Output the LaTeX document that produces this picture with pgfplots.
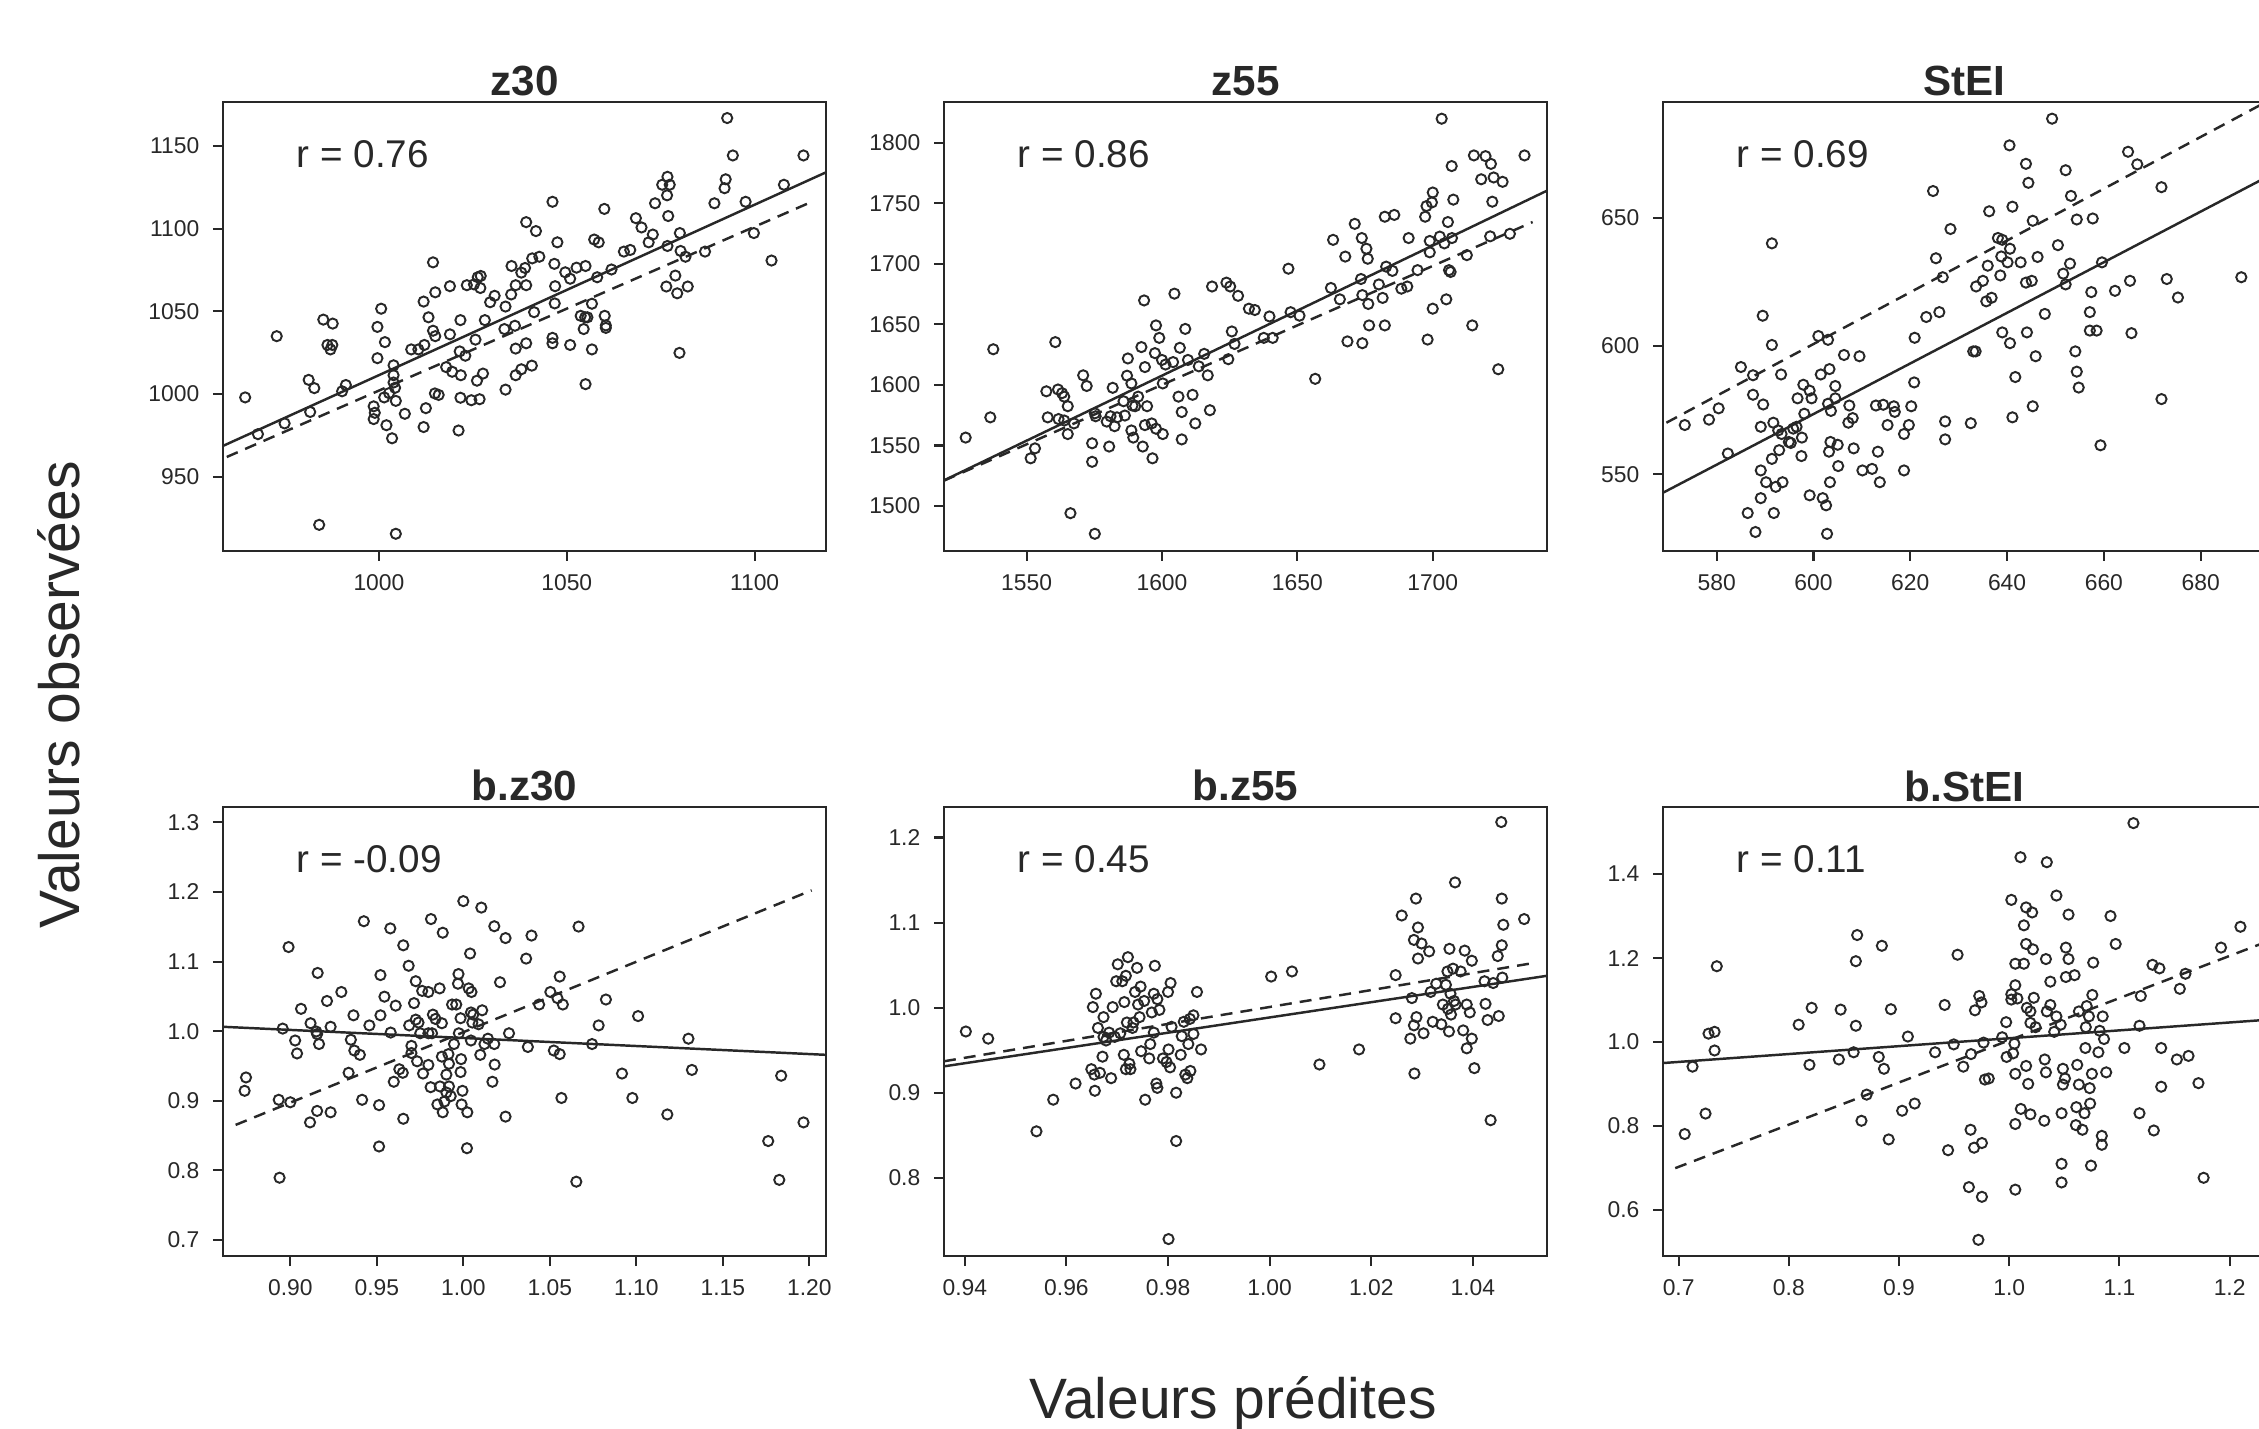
\documentclass[border=0pt]{standalone}
\usepackage{fontspec}
\setmainfont{Liberation Sans}
\usepackage{pgfplots}
\pgfplotsset{compat=1.18}

\definecolor{ink}{RGB}{40,40,40}

\pgfplotsset{
  panel/.style={
    scale only axis, width=6.03cm, height=4.49cm,
    axis line style={ink, line width=0.7pt},
    tick align=outside, tick pos=left,
    major tick length=0.10cm,
    tick style={ink, line width=0.6pt},
    tick label style={font=\fontsize{6.5}{7}\selectfont, text=ink, inner sep=0pt},
    xticklabel style={yshift=-0.13cm},
    yticklabel style={xshift=-0.13cm},
    /pgf/number format/assume math mode=true,
    /pgf/number format/1000 sep={},
    scaled ticks=false,
    every axis title/.style={at={(0.5,1)}, anchor=base, yshift=0.06cm, inner sep=0pt,
      font=\bfseries\fontsize{12}{13}\selectfont, text=ink},
  },
  pts/.style={only marks, mark=o, mark size=1.45pt, mark options={line width=0.55pt, draw=ink}},
  fit/.style={ink, line width=0.7pt},
  fitd/.style={ink, line width=0.7pt, dash pattern=on 3.4pt off 2.3pt},
}
\newcommand{\rlab}[1]{\node[anchor=base west, inner sep=0pt, font=\fontsize{11}{12}\selectfont, text=ink] at (rel axis cs:0.121,0.855) {#1};}

\begin{document}
\begin{tikzpicture}

% ---------- z30
\begin{axis}[panel, at={(2.23cm,8.77cm)}, anchor=south west,
  title={z30}, xmin=958.5, xmax=1119, ymin=905.2, ymax=1176.5,
  xtick={1000,1050,1100}, ytick={950,1000,1050,1100,1150}]
\addplot[pts] coordinates {(964.4,998) (967.8,975.8) (972.8,1035) (974.9,982.3) (981.7,989.2) (981.3,1008.6) (982.8,1003.6) (985.2,1045) (987.7,1042.6) (986.3,1029.7) (987.6,1029.7) (987.1,1027) (984.1,921) (990.2,1001.7) (991.2,1005.5) (1000.6,1051.6) (999.6,1040.6) (1001.6,1031.4) (999.6,1021.7) (998.6,992.6) (998.9,988.7) (998.6,984.9) (1001.4,998) (1002,981.2) (1003.5,973.3) (1003.9,1017.4) (1003.9,1011.4) (1003.9,1007) (1004.3,1003.8) (1004.5,995.9) (1002.7,1000.6) (1004.5,915.6) (1006.9,988.1) (1008.6,1027) (1010.5,1027) (1012.1,1029.7) (1011.9,1055.9) (1013.2,1046.4) (1014.4,1038.3) (1015,1035) (1014.4,1079.6) (1015,1061.5) (1018.9,1065.2) (1018.9,1036.1) (1012.5,991.5) (1011.9,980.1) (1014.9,1000.4) (1015.9,999.5) (1017.9,1016.3) (1019.5,1013.5) (1021.5,1025.8) (1021.8,1011.4) (1023,1023.2) (1021.7,997.8) (1021.2,978) (1021.7,1044.7) (1023.4,1065.8) (1025.3,1066.3) (1026.3,1070.6) (1027.1,1071.4) (1027,1064.1) (1028.2,1044.7) (1029.6,1055.5) (1030.8,1059.4) (1025.7,1032.9) (1026.1,1008.1) (1027.7,1012.4) (1024.6,996.3) (1026.8,996.9) (1033.7,1052.9) (1033.4,1039.3) (1033.7,1002.7) (1035.3,1077.4) (1035.2,1060.2) (1036.4,1065.8) (1036.2,1041.3) (1036.4,1027.5) (1036.4,1011.4) (1037.9,1015) (1037.9,1073.4) (1038.9,1076.2) (1039.2,1065.8) (1039.2,1030.7) (1039.2,1103.9) (1040.7,1017.2) (1041.3,1049.5) (1040.8,1082) (1041.8,1098.5) (1042.7,1083) (1046.2,1116.2) (1046.7,1078.7) (1046.2,1034) (1046.2,1030.7) (1046.9,1065.2) (1046.8,1054.8) (1047.5,1091.7) (1049.6,1073.6) (1050.9,1069.7) (1050.9,1029.7) (1052.6,1076.4) (1055,1077.4) (1053.7,1047.3) (1054.9,1046.4) (1054.5,1039.3) (1055.5,1046.4) (1055,1006) (1056.7,1027) (1056.7,1054.6) (1057.3,1093.4) (1058.5,1091.7) (1058.1,1070.6) (1060,1111.9) (1060.1,1047.3) (1060.4,1041.5) (1060.4,1040) (1061.9,1075.3) (1065.2,1086.1) (1066.9,1087.1) (1068.4,1106.3) (1069.9,1100.7) (1071.8,1091.7) (1072.9,1096.4) (1073.5,1115.3) (1075.4,1126.5) (1076.7,1120.1) (1076.8,1131.3) (1077.4,1126.5) (1077,1107.6) (1076.8,1089.5) (1076.5,1065) (1078.9,1071.6) (1079.4,1060.9) (1080.1,1097.3) (1080.3,1086.5) (1081.6,1083) (1082.2,1065) (1080,1024.9) (1086.8,1086.1) (1089.3,1115.3) (1092,1124.4) (1092.3,1129.8) (1092.7,1166.8) (1094.2,1144.2) (1097.6,1116.2) (1099.8,1097.3) (1104.5,1080.7) (1107.8,1126.5) (1113,1144.2)};
\addplot[fit] coordinates {(958.5,968.7) (1119,1134)};
\addplot[fitd] coordinates {(959.5,962) (1115,1116)};
\rlab{r = 0.76}
\end{axis}

% ---------- z55
\begin{axis}[panel, at={(9.44cm,8.77cm)}, anchor=south west,
  title={z55}, xmin=1519.5, xmax=1742.2, ymin=1462.9, ymax=1833.5,
  xtick={1550,1600,1650,1700}, ytick={1500,1550,1600,1650,1700,1750,1800}]
\addplot[pts] coordinates {(1527.5,1556.5) (1536.6,1573.2) (1537.7,1629.4) (1551.5,1539.4) (1553.1,1547.6) (1557.3,1594.7) (1557.8,1573.2) (1560.6,1635.3) (1561.6,1596.2) (1563.1,1593.2) (1563.9,1590.3) (1565.2,1582.4) (1561.8,1571.8) (1563.9,1570.6) (1565.2,1559.4) (1567.5,1568.2) (1566.2,1494.1) (1570.9,1607.9) (1572.2,1599.1) (1574.2,1551.8) (1574.2,1536.5) (1575.2,1576.5) (1575.5,1574.1) (1575.2,1477.1) (1579.6,1569.7) (1580.5,1549.1) (1581.8,1597.6) (1581,1574.1) (1582.5,1565.9) (1583.4,1573.2) (1586.3,1574.7) (1585.8,1586.5) (1587.1,1607.6) (1587.4,1621.8) (1588.7,1601.2) (1589.1,1582.9) (1590.1,1582.4) (1588.7,1562.4) (1589.4,1556.5) (1591.2,1590.3) (1592.4,1631.2) (1593.7,1614.7) (1594.5,1582.4) (1593.7,1566.8) (1593.4,1669.7) (1592.9,1549.1) (1596.2,1568.2) (1596.5,1539.4) (1597.4,1626.2) (1597.8,1649.1) (1597.8,1563.8) (1599,1638.8) (1600,1620.6) (1600.3,1601.2) (1600.3,1559.4) (1601.3,1616.8) (1604.1,1618.8) (1604.6,1675.3) (1606.1,1590.3) (1606.6,1630.6) (1607.3,1577.6) (1607.3,1555) (1608.6,1646.2) (1609.6,1620.6) (1611.3,1591.8) (1612.3,1568.2) (1613.6,1615.3) (1615.6,1625.6) (1616.9,1607.9) (1617.7,1579.1) (1618.5,1681.2) (1623.8,1684.4) (1625.2,1681.2) (1628.1,1673.5) (1625.8,1644.1) (1626.8,1633.8) (1624.5,1621.2) (1632.1,1662.9) (1634.3,1661.8) (1637.6,1638.8) (1639.7,1656.5) (1640.9,1638.8) (1646.7,1695.9) (1647.5,1660) (1650.8,1657.1) (1656.6,1605) (1662.4,1680) (1663.2,1719.7) (1665.7,1670.6) (1667.7,1705.9) (1668.5,1635.9) (1671.2,1732.9) (1673.5,1687.4) (1673.8,1721.2) (1674,1674.1) (1674,1634.4) (1675.5,1712.4) (1676,1704.1) (1676.2,1666.8) (1676.5,1649.1) (1680.1,1682.9) (1681.5,1671.8) (1682.3,1738.8) (1682.8,1697.6) (1682.3,1649.1) (1685.1,1694.1) (1685.8,1740.3) (1688.4,1679.4) (1690.6,1681.2) (1691.1,1721.2) (1694.4,1694.7) (1697.2,1738.8) (1697.7,1747.6) (1698.9,1718.8) (1698.9,1709.4) (1698.1,1637.4) (1699.7,1750.6) (1700,1758.8) (1700,1662.9) (1702.6,1722.4) (1703.3,1819.7) (1704.3,1716.8) (1705,1670.6) (1705.6,1734.4) (1706,1694.7) (1706.6,1693.2) (1707.1,1721.2) (1707,1780.6) (1707.6,1752.9) (1712.6,1707.1) (1714.6,1649.1) (1715.2,1789.4) (1717.9,1769.7) (1719.5,1788.8) (1721.2,1722.6) (1721.5,1782.4) (1722,1751.2) (1722.5,1771.2) (1724.2,1612.9) (1725.8,1767.6) (1728.5,1724.7) (1733.9,1789.4)};
\addplot[fit] coordinates {(1519.5,1521.2) (1742.2,1760.3)};
\addplot[fitd] coordinates {(1519.5,1521) (1736.9,1734.4)};
\rlab{r = 0.86}
\end{axis}

% ---------- StEI
\begin{axis}[panel, at={(16.63cm,8.77cm)}, anchor=south west,
  title={StEI}, xmin=568.9, xmax=693.5, ymin=520.1, ymax=695.1,
  xtick={580,600,620,640,660,680}, ytick={550,600,650}]
\addplot[pts] coordinates {(573.4,569.2) (578.4,571.3) (580.4,575.7) (582.3,558.1) (585,591.8) (586.4,534.9) (587.5,588.6) (587.5,581) (588,527.5) (589.1,540.7) (589.1,568.5) (589.1,551.5) (589.5,611.8) (589.6,577.2) (590.2,546.9) (591.4,640) (591.4,600.4) (591.4,556) (591.7,570.1) (591.8,534.9) (592.2,545.1) (592.7,567.1) (592.9,559.4) (593.3,588.9) (593.6,546.9) (593.4,565.7) (594.9,562.6) (595.3,562.2) (595.8,567.8) (596.5,568.5) (596.7,579.6) (597.6,564.3) (597.5,557.1) (597.9,584.9) (598.1,573.6) (599.2,582.6) (599.6,579.6) (599.2,541.8) (601,603.9) (601.5,588.9) (601.9,540.7) (602.6,537.9) (602.8,526.8) (603,602.4) (603.3,591) (603,577.5) (603.6,574.7) (603.5,562.6) (603.2,558.8) (603.4,546.9) (604.5,584.4) (604.5,579.6) (605,561.5) (605.1,553.2) (606.3,596.5) (607.4,576.8) (607.2,570.1) (608.1,571.9) (608.3,560.1) (609.5,596) (610.1,551.5) (612.1,552.1) (612.9,576.8) (613.3,558.8) (613.7,546.9) (614.4,577.1) (615.3,569.2) (616.6,576.5) (616.8,574.3) (618.7,565.7) (618.7,551.5) (619.7,569.2) (620.2,576.5) (620.8,585.8) (620.9,603.2) (623.3,611.3) (624.7,660.4) (625.3,634.2) (626,613.2) (626.7,626.8) (627.2,570.6) (627.2,563.6) (628.3,645.6) (632.5,569.9) (633,597.9) (633.5,597.9) (633.6,623.2) (635,625.4) (635.7,617.4) (636,631.3) (636.3,652.5) (636.8,618.8) (638.1,642.1) (639,641.4) (638.6,627.5) (638.8,634.9) (639,605.3) (640.1,632.6) (640.6,637.9) (640.5,678.2) (640.6,601.1) (641.1,654.3) (641.1,572.2) (641.7,587.9) (642.8,632.6) (643.9,671) (644.4,663.6) (643.9,624.7) (645.1,625.4) (645.3,648.8) (644.1,605.3) (645.3,576.5) (645.9,596) (646.3,634.7) (647.8,612.5) (649.3,688.6) (650.5,639.3) (651.6,628.2) (652.1,668.5) (652.1,624) (653,632.1) (653.2,658.5) (654.4,649.3) (654.1,597.9) (654.4,590) (654.8,583.8) (657.7,649.7) (657.4,621) (657.1,613.2) (657.1,606) (658.5,606) (659.6,632.6) (659.3,561.3) (662.3,621.5) (665,675.7) (665.4,625.4) (665.7,605) (666.9,670.8) (671.9,661.9) (671.9,579.3) (673,626.1) (675.3,618.9) (688.4,626.8)};
\addplot[fit] coordinates {(568.9,542.8) (693.5,665.7)};
\addplot[fitd] coordinates {(569.6,570.1) (693.5,695.1)};
\rlab{r = 0.69}
\end{axis}

% ---------- b.z30
\begin{axis}[panel, at={(2.23cm,1.72cm)}, anchor=south west,
  title={b.z30}, xmin=0.8611, xmax=1.2096, ymin=0.6769, ymax=1.3222,
  xtick={0.90,0.95,1.00,1.05,1.10,1.15,1.20}, ytick={0.7,0.8,0.9,1.0,1.1,1.2,1.3},
  xticklabel style={/pgf/number format/.cd, fixed, zerofill, precision=2},
  yticklabel style={/pgf/number format/.cd, fixed, zerofill, precision=1}]
\addplot[pts] coordinates {(0.8744,0.9335) (0.8736,0.9143) (0.8938,0.7894) (0.8933,0.9014) (0.8956,1.0037) (0.899,1.1209) (0.90,0.8978) (0.9028,0.9866) (0.9039,0.9680) (0.9062,1.0321) (0.9117,1.0114) (0.9114,0.8689) (0.9158,1.0837) (0.915,0.9995) (0.9155,0.9959) (0.9166,0.9815) (0.9155,0.8854) (0.9212,1.0434) (0.9233,1.0063) (0.9233,0.8834) (0.9295,1.0563) (0.9337,0.9402) (0.935,0.9877) (0.937,0.9722) (0.9365,1.0228) (0.9402,0.9660) (0.9425,1.158) (0.9415,0.9014) (0.9457,1.0083) (0.9521,1.0228) (0.9521,1.0806) (0.9513,0.8937) (0.9513,0.8343) (0.9544,1.0496) (0.9578,1.1477) (0.9580,0.9980) (0.9598,0.9273) (0.9609,1.0367) (0.963,0.9453) (0.965,0.9402) (0.9653,1.1234) (0.9653,0.8741) (0.9684,1.0940) (0.9687,1.0083) (0.97,0.9789) (0.97,0.9686) (0.9715,1.0403) (0.9725,1.0166) (0.9725,1.0718) (0.9733,0.9567) (0.9741,1.0124) (0.9751,0.9970) (0.9767,0.9391) (0.9762,1.0579) (0.9798,1.0563) (0.9798,0.9970) (0.9798,0.9515) (0.9811,0.9195) (0.9813,1.1611) (0.9819,0.9970) (0.9824,1.0238) (0.9839,1.0176) (0.985,0.8947) (0.9863,1.0615) (0.9865,0.9206) (0.9876,1.0114) (0.9876,0.9634) (0.9881,1.1415) (0.9881,0.8834) (0.9891,0.8989) (0.9902,0.9376) (0.9902,0.9118) (0.9914,0.9670) (0.9917,0.9531) (0.9917,0.9206) (0.9927,0.9066) (0.9935,1.0383) (0.9946,0.9815) (0.9959,1.0383) (0.9969,1.0682) (0.9972,1.0821) (0.9974,0.9970) (0.9984,1.0186) (0.9987,0.9598) (0.9984,0.9412) (0.9995,0.9143) (0.999,0.8947) (1.0,1.1869) (1.0023,0.8834) (1.0021,0.8318) (1.0031,1.0615) (1.0044,1.0269) (1.0047,1.0563) (1.0039,1.1116) (1.0044,0.9866) (1.0052,1.0124) (1.0057,1.0238) (1.0088,1.0099) (1.0098,0.9660) (1.0109,1.0300) (1.0104,1.1776) (1.0122,0.9815) (1.0142,0.9892) (1.0168,0.9273) (1.0179,0.9815) (1.0181,0.9520) (1.0179,1.1508) (1.0212,1.0703) (1.0244,1.1338) (1.0244,0.8772) (1.0264,0.9970) (1.0373,0.9773) (1.0363,1.1043) (1.0394,1.1374) (1.0438,1.0383) (1.0503,1.0563) (1.0523,0.9722) (1.0544,1.0475) (1.0557,1.0785) (1.0557,0.9670) (1.0575,1.0383) (1.0567,0.9040) (1.0666,1.1503) (1.0653,0.7837) (1.0744,0.9815) (1.0782,1.0083) (1.0824,1.0455) (1.0917,0.9391) (1.0977,0.9040) (1.101,1.0217) (1.1179,0.8803) (1.1301,0.9892) (1.1321,0.9443) (1.1762,0.8421) (1.1826,0.7863) (1.1837,0.9360) (1.1966,0.8689)};
\addplot[fit] coordinates {(0.8611,1.0063) (1.2096,0.966)};
\addplot[fitd] coordinates {(0.8684,0.8653) (1.2013,1.2024)};
\rlab{r = -0.09}
\end{axis}

% ---------- b.z55
\begin{axis}[panel, at={(9.44cm,1.72cm)}, anchor=south west,
  title={b.z55}, xmin=0.9359, xmax=1.0546, ymin=0.7079, ymax=1.2359,
  xtick={0.94,0.96,0.98,1.00,1.02,1.04}, ytick={0.8,0.9,1.0,1.1,1.2},
  xticklabel style={/pgf/number format/.cd, fixed, zerofill, precision=2},
  yticklabel style={/pgf/number format/.cd, fixed, zerofill, precision=1}]
\addplot[pts] coordinates {(0.9402,0.9719) (0.9446,0.9635) (0.9541,0.8545) (0.9574,0.8917) (0.9618,0.9107) (0.9649,0.9276) (0.9655,0.9212) (0.9656,0.9022) (0.9652,1.0006) (0.9658,1.0163) (0.9662,0.9761) (0.9666,0.9233) (0.9671,0.9423) (0.9673,0.9656) (0.9673,0.9888) (0.9678,0.9613) (0.9684,0.9706) (0.9688,0.9170) (0.9691,1.0006) (0.9695,0.9656) (0.9698,1.0310) (0.9701,1.0509) (0.9706,0.9698) (0.9710,1.0310) (0.9713,0.9445) (0.9714,1.0065) (0.9717,1.0374) (0.9721,1.0593) (0.9719,0.9825) (0.9717,0.9276) (0.9724,0.9339) (0.9726,0.9276) (0.9730,0.9761) (0.9732,0.9825) (0.9735,1.0184) (0.9739,1.0467) (0.9741,1.0036) (0.9744,0.9888) (0.9746,1.0247) (0.9747,0.9487) (0.9753,1.0078) (0.9755,0.8917) (0.9763,0.9402) (0.9765,0.9571) (0.9768,0.9943) (0.9772,0.9706) (0.9774,1.0492) (0.9772,1.0163) (0.9777,0.9107) (0.9779,0.9056) (0.9783,0.9973) (0.9779,1.0099) (0.9790,0.9402) (0.9797,0.9360) (0.9801,0.9508) (0.9804,0.9297) (0.9800,1.0184) (0.9805,1.0289) (0.9807,0.9774) (0.9801,0.7278) (0.9816,0.8431) (0.9816,0.8999) (0.9825,0.9445) (0.9827,0.9664) (0.9831,0.9833) (0.9834,0.9212) (0.9838,0.9170) (0.9840,0.9571) (0.9843,0.9867) (0.9844,0.9255) (0.9850,0.9909) (0.9850,0.9690) (0.9857,1.0184) (0.9865,0.9508) (1.0003,1.0365) (1.0044,1.0425) (1.0098,0.9331) (1.0176,0.9508) (1.0248,1.0382) (1.0248,0.9875) (1.026,1.1083) (1.0277,0.9635) (1.0280,1.0112) (1.0284,0.9791) (1.0285,0.9225) (1.0288,1.1282) (1.0284,1.0796) (1.0289,0.9888) (1.0292,1.0942) (1.0292,1.0577) (1.0299,1.0754) (1.0303,0.9698) (1.0314,1.0661) (1.0317,1.0184) (1.0321,0.9833) (1.0328,1.0281) (1.0338,0.9804) (1.0341,1.0036) (1.0347,1.0268) (1.0350,1.0425) (1.0351,0.9985) (1.0353,0.9719) (1.0354,1.0691) (1.0356,1.0163) (1.0357,0.9918) (1.0361,1.0458) (1.0363,1.0078) (1.0365,1.1472) (1.0366,1.0036) (1.0376,1.0425) (1.0381,0.9732) (1.0384,1.0670) (1.0388,1.0036) (1.0388,0.9521) (1.0394,0.9943) (1.0398,1.0551) (1.0398,0.9635) (1.0403,0.9288) (1.0423,1.0310) (1.0425,1.0044) (1.0429,0.9854) (1.0435,0.8676) (1.0440,1.0289) (1.0449,1.0606) (1.0451,0.9901) (1.0457,1.0733) (1.0458,1.0353) (1.0456,1.2182) (1.0457,1.1282) (1.0460,1.0974) (1.0501,1.1041)};
\addplot[fit] coordinates {(0.9359,0.9309) (1.0546,1.0374)};
\addplot[fitd] coordinates {(0.9359,0.9369) (1.0517,1.0522)};
\rlab{r = 0.45}
\end{axis}

% ---------- b.StEI
\begin{axis}[panel, at={(16.63cm,1.72cm)}, anchor=south west,
  title={b.StEI}, xmin=0.6858, xmax=1.233, ymin=0.4905, ymax=1.5597,
  xtick={0.7,0.8,0.9,1.0,1.1,1.2}, ytick={0.6,0.8,1.0,1.2,1.4},
  xticklabel style={/pgf/number format/.cd, fixed, zerofill, precision=1},
  yticklabel style={/pgf/number format/.cd, fixed, zerofill, precision=1}]
\addplot[pts] coordinates {(0.7055,0.7809) (0.7126,0.9414) (0.7244,0.8296) (0.7271,1.0200) (0.7326,1.0243) (0.7326,0.9799) (0.7346,1.1805) (0.8089,1.0413) (0.8187,0.9457) (0.8207,1.0815) (0.8454,0.9585) (0.8470,1.0772) (0.8588,0.9756) (0.8608,1.0388) (0.8608,1.1925) (0.8620,1.2548) (0.8659,0.8125) (0.8706,0.8748) (0.8816,0.9645) (0.8844,1.2292) (0.8863,0.9363) (0.8906,0.7681) (0.8926,1.0781) (0.9028,0.8364) (0.9080,1.0131) (0.9142,0.8535) (0.9414,1.0883) (0.9445,0.7424) (0.9327,0.9756) (0.9496,0.9944) (0.9531,1.2079) (0.9583,0.9414) (0.9634,0.6545) (0.9649,0.7911) (0.9653,0.9713) (0.9681,0.7484) (0.9689,1.0755) (0.9720,0.5290) (0.9728,1.1097) (0.9748,1.0943) (0.9752,0.6314) (0.9752,0.7595) (0.9767,0.9986) (0.9779,0.9107) (0.9814,0.9132) (0.9936,1.0114) (0.9972,1.0473) (0.9976,0.9645) (1.0019,1.3385) (1.0019,1.1139) (1.0019,1.1011) (1.0035,0.9730) (1.0047,0.9961) (1.0055,0.9243) (1.0055,0.8048) (1.0055,1.1353) (1.0074,1.1037) (1.0055,1.1865) (1.0055,0.6485) (1.0102,1.4401) (1.0105,0.8407) (1.0133,1.2779) (1.0133,1.1865) (1.0153,1.2335) (1.0153,1.3206) (1.0153,0.9431) (1.0160,1.0815) (1.0172,0.9004) (1.0192,1.0729) (1.0192,0.8278) (1.0192,1.0456) (1.0208,1.3086) (1.0215,1.2207) (1.0223,1.1054) (1.0239,1.0354) (1.0318,0.8125) (1.0322,0.9585) (1.0333,0.9278) (1.0341,1.4282) (1.0333,1.1976) (1.0341,1.0729) (1.0373,1.1438) (1.0373,1.0883) (1.0408,1.0243) (1.0428,1.3488) (1.0428,1.0610) (1.0467,1.0413) (1.0475,0.8304) (1.0475,0.7100) (1.0475,0.6656) (1.0487,0.9363) (1.0487,0.8987) (1.0506,0.9132) (1.0514,1.1549) (1.0514,1.2249) (1.0538,1.3035) (1.0538,1.1976) (1.0593,1.1592) (1.0605,0.8022) (1.0609,0.8449) (1.0617,0.9457) (1.0632,0.8987) (1.0632,1.0729) (1.0664,0.7911) (1.0683,0.8304) (1.0691,0.9858) (1.0695,1.0354) (1.0703,1.0857) (1.0723,1.0610) (1.0730,0.8902) (1.0734,0.8535) (1.0742,0.7057) (1.0750,0.9243) (1.0754,1.1122) (1.0762,1.1891) (1.0809,0.9756) (1.0821,1.0268) (1.0840,0.7766) (1.0840,0.7553) (1.0848,1.0610) (1.0860,1.0072) (1.0880,0.9278) (1.0919,1.3001) (1.0966,1.2335) (1.1045,0.9858) (1.1127,1.5213) (1.1182,0.8304) (1.1182,1.0388) (1.1194,1.1097) (1.1300,1.1839) (1.1312,0.7894) (1.1363,1.1754) (1.1379,0.9858) (1.1379,0.8936) (1.1521,0.9585) (1.1548,1.1267) (1.1599,1.1626) (1.1627,0.9670) (1.1717,0.9021) (1.1764,0.6767) (1.1922,1.2249) (1.2098,1.2745)};
\addplot[fit] coordinates {(0.6858,0.95) (1.233,1.0528)};
\addplot[fitd] coordinates {(0.6969,0.6997) (1.233,1.2383)};
\rlab{r = 0.11}
\end{axis}

\node[anchor=base, inner sep=0pt, font=\fontsize{16.2}{18}\selectfont, text=ink] at (12.33,0.10) {Valeurs prédites};
\node[anchor=base, inner sep=0pt, rotate=90, font=\fontsize{16.2}{18}\selectfont, text=ink] at (0.80,7.33) {Valeurs observées};

\pgfresetboundingbox
\path[use as bounding box] (0,0) rectangle (22.59,14.28);
\end{tikzpicture}
\end{document}
